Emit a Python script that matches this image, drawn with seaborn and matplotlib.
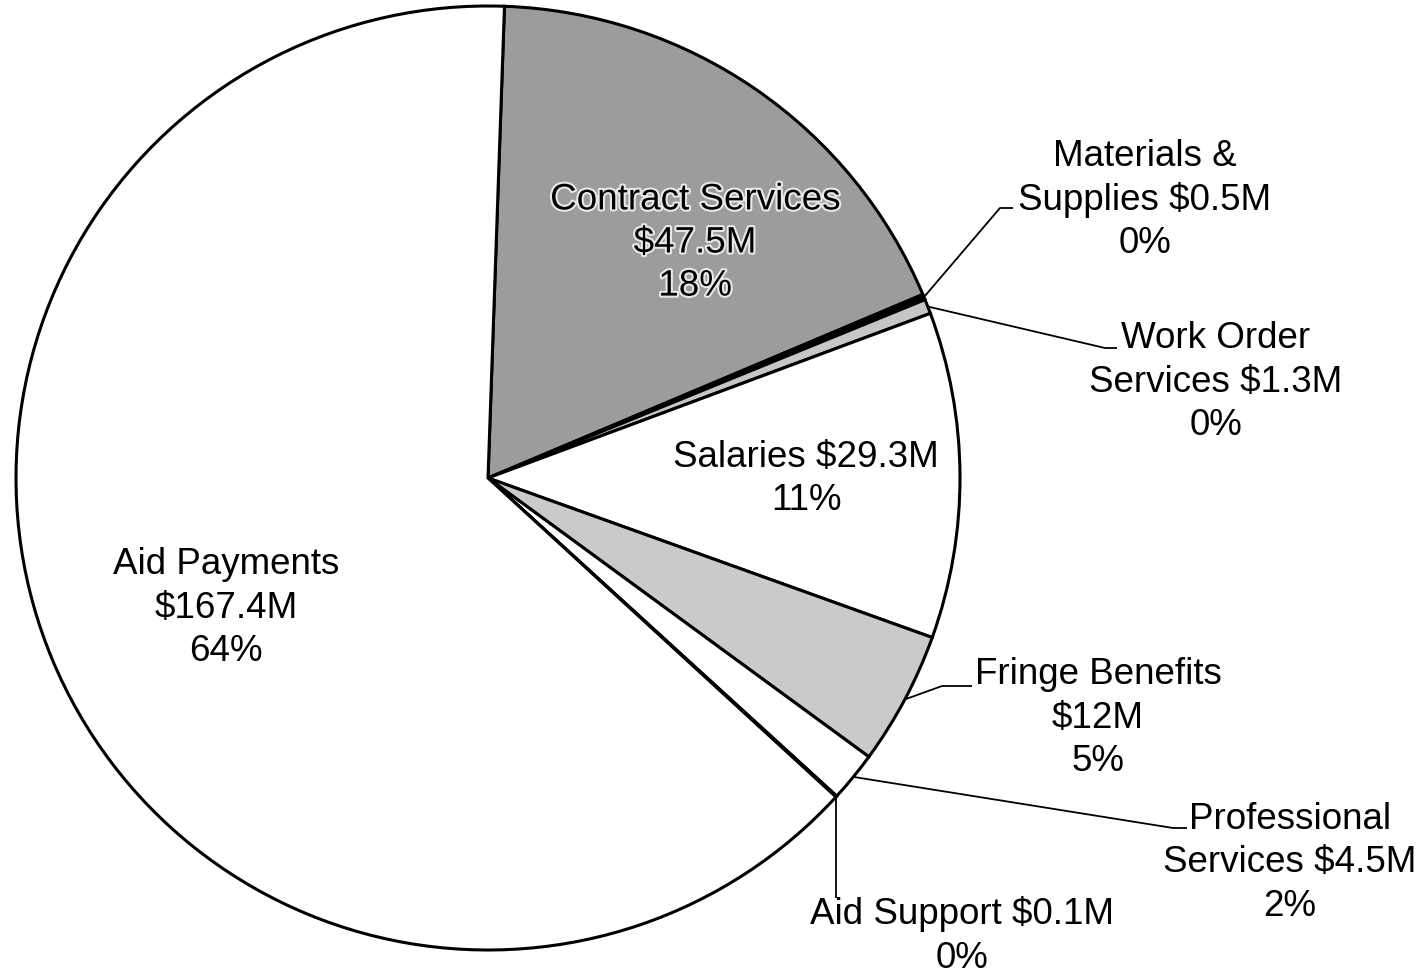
import matplotlib
matplotlib.use("Agg")
import matplotlib.pyplot as plt
import matplotlib.patheffects as pe
import numpy as np
import seaborn as sns

# -------------------------------------------------------------
# Datos del grafico
# -------------------------------------------------------------
categorias = ["Contract Services", "Materials & Supplies", "Work Order Services",
              "Salaries", "Fringe Benefits", "Professional Services",
              "Aid Support", "Aid Payments"]
montos = [47.5, 0.5, 1.3, 29.3, 12, 4.5, 0.1, 167.4]
etiquetas = ["Contract Services\n$47.5M\n18%",
             "Materials &\nSupplies $0.5M\n0%",
             "Work Order\nServices $1.3M\n0%",
             "Salaries $29.3M\n11%",
             "Fringe Benefits\n$12M\n5%",
             "Professional\nServices $4.5M\n2%",
             "Aid Support $0.1M\n0%",
             "Aid Payments\n$167.4M\n64%"]
colores = ["#9c9c9c", "#000000", "#c6c6c6", "#ffffff",
           "#cacaca", "#ffffff", "#ffffff", "#ffffff"]

# -------------------------------------------------------------
# Layout (pixeles, y desde arriba)
# -------------------------------------------------------------
W, H = 1426, 974
cx, cy, R = 488, 478, 472

# posicion del texto de cada etiqueta
pos_texto = {0: (695, 243), 1: (1145, 200), 2: (1216, 382), 3: (806, 479),
             4: (1098, 718), 5: (1290, 863), 6: (962, 936), 7: (226, 608)}
# lineas guia: (codo, fin); codo None -> linea vertical
guias = {1: ((1000, 208), (1013, 208)),
         2: ((1105, 348), (1117, 348)),
         4: ((942, 686), (972, 686)),
         5: ((1173, 828), (1187, 828)),
         6: (None, 898)}

sns.set_theme(style="white")
plt.rcParams['font.family'] = ['Liberation Sans', 'DejaVu Sans']

fig = plt.figure(figsize=(W / 100, H / 100), dpi=100)
ax = fig.add_axes([0, 0, 1, 1])

wedges, _ = ax.pie(montos, colors=colores, startangle=88, counterclock=False,
                   center=(cx, H - cy), radius=R,
                   wedgeprops=dict(edgecolor="black", linewidth=2.2))
ax.set_xlim(0, W)
ax.set_ylim(0, H)
ax.set_aspect("equal")
ax.set_axis_off()

# lineas guia desde el borde de cada porcion
for i, (codo, fin) in guias.items():
    w = wedges[i]
    ang = np.deg2rad((w.theta1 + w.theta2) / 2)
    x0 = cx + R * np.cos(ang)
    y0 = (H - cy) + R * np.sin(ang)
    if codo is None:
        xs, ys = [x0, x0], [y0, H - fin]
    else:
        xs = [x0, codo[0], fin[0]]
        ys = [y0, H - codo[1], H - fin[1]]
    ax.plot(xs, ys, color="black", lw=1.3, solid_capstyle="butt")

for i, txt in enumerate(etiquetas):
    x, y = pos_texto[i]
    t = ax.text(x, H - y, txt, ha="center", va="center", multialignment="center",
                fontsize=26.5, color="black", linespacing=1.3)
    if i == 0:
        t.set_path_effects([pe.withStroke(linewidth=3, foreground="#e8e8e8")])

plt.savefig("out.png", dpi=100)
